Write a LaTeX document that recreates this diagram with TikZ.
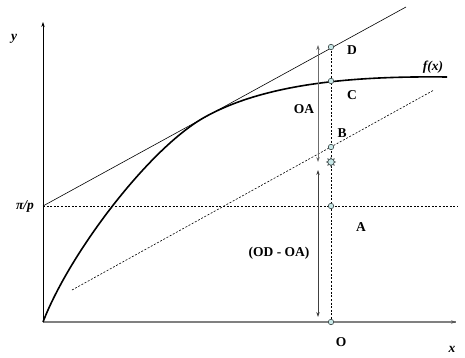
\documentclass[tikz,border=0pt]{standalone}
\usepackage{fontspec}
\setmainfont{Liberation Serif}
\usetikzlibrary{shapes.geometric,arrows.meta}
\definecolor{ptfill}{RGB}{200,232,232}
\definecolor{ptdraw}{RGB}{60,70,70}
\tikzset{
  lbl/.style={font=\fontsize{13.5}{15}\selectfont\bfseries, inner sep=0pt},
  ilbl/.style={font=\fontsize{13.5}{15}\selectfont\bfseries\itshape, inner sep=0pt},
  pt/.style={circle, draw=ptdraw, fill=ptfill, line width=0.6pt, minimum size=5.5pt, inner sep=0pt},
  starpt/.style={star, star points=8, star point ratio=1.7, draw=ptdraw, fill=ptfill, line width=0.6pt, minimum size=9pt, inner sep=0pt},
  dline/.style={line width=0.6pt, dash pattern=on 2pt off 1.6pt},
  tip/.style={-{Stealth[length=5pt,width=3.4pt]}},
  dtip/.style={{Stealth[length=5pt,width=3.4pt]}-{Stealth[length=5pt,width=3.4pt]}},
}
\begin{document}
\begin{tikzpicture}[x=1pt,y=-1pt]
\useasboundingbox (0,0) rectangle (465,358);
% named points
\coordinate (O0) at (43,322);
\coordinate (Ytop) at (43,22);
\coordinate (Xend) at (456,322);
\coordinate (P) at (43,206);
\coordinate (Pend) at (458,206);
\coordinate (Tend) at (406,7);
\coordinate (Dl) at (72,290);
\coordinate (Dr) at (434,90);
\coordinate (T) at (205,117);
\coordinate (Fend) at (447,77);
\coordinate (U1) at (318,45);
\coordinate (U2) at (318,162);
\coordinate (L1) at (318,170);
\coordinate (L2) at (318,317);
% axes
\draw[line width=1.3pt, gray] (O0) -- (Xend);
\draw[tip, line width=0.8pt, gray!70!black] (Xend) ++(-1,0) -- (Xend);
\draw[tip, line width=0.8pt] (O0) -- (Ytop);
% dashed lines
\draw[dline] (P) -- (Pend);
\draw[dline] (Dl) -- (Dr);
% tangent
\draw[line width=0.6pt] (P) -- (Tend);
% curve
\draw[line width=1.6pt] (O0) .. controls (70,252) and (150,147.5) .. (T)
  .. controls (268,82) and (360,76) .. (Fend);
% vertical dashed
\coordinate (Dp) at (331,47);
\coordinate (Op) at (331,322);
\draw[dline] (Dp) -- (Op);
% arrows
\draw[dtip, line width=0.7pt, gray!85!black] (U1) -- (U2);
\draw[dtip, line width=0.7pt, black!75] (L1) -- (L2);
% points
\node[pt] (D) at (Dp) {};
\node[pt] (C) at (331,81) {};
\node[pt] (B) at (331,147) {};
\node[starpt] (S) at (331,162) {};
\node[pt] (A) at (331,206) {};
\node[pt] (O) at (Op) {};
% labels
\node[ilbl] (ylab) at (14,39) {y};
\node[ilbl] (xlab) at (452,349) {x};
\node[ilbl] (pilab) at (25,206) {π/p};
\node[ilbl] (flab) at (433,67) {f(x)};
\node[lbl] (Dlab) at (352,50) {D};
\node[lbl] (Clab) at (352,95) {C};
\node[lbl] (Blab) at (342,133) {B};
\node[lbl] (Alab) at (361,227) {A};
\node[lbl] (Olab) at (341,342) {O};
\node[lbl] (OAlab) at (304,109) {OA};
\node[lbl] (ODlab) at (279,253) {(OD - OA)};
\end{tikzpicture}
\end{document}
